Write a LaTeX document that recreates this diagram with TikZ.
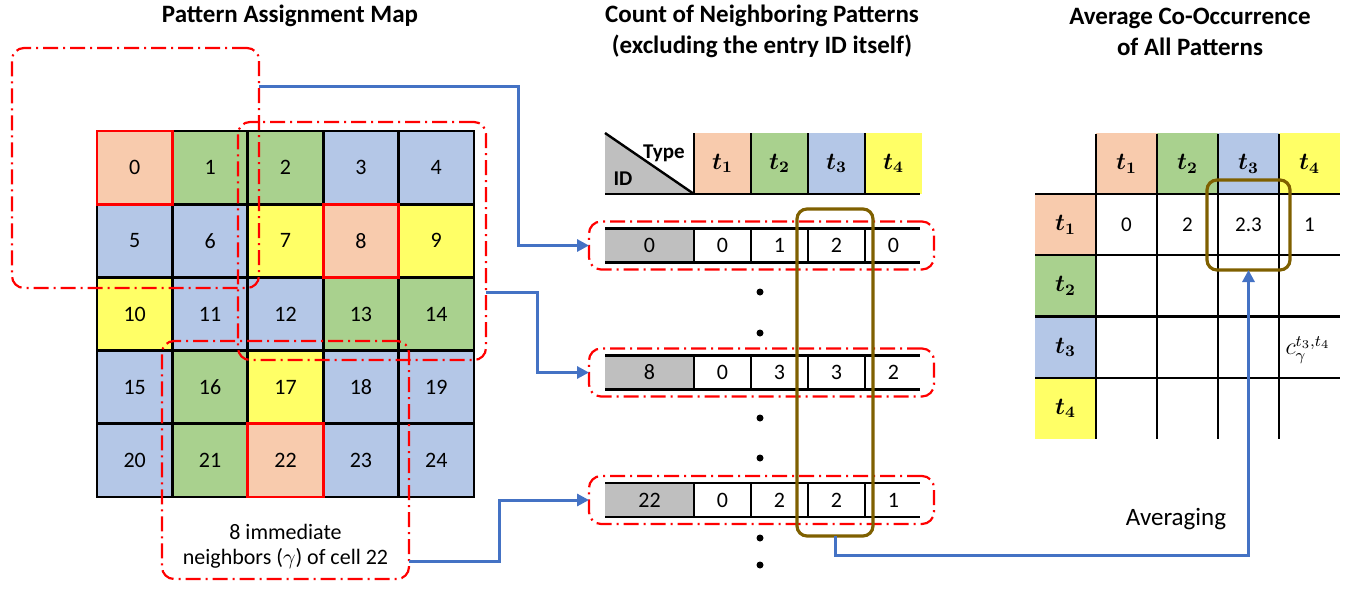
\documentclass[tikz,border=0pt]{standalone}
\usepackage{fontspec}
\usepackage{bm}
\setmainfont{Carlito}
\usetikzlibrary{arrows.meta,calc}
\definecolor{patorange}{HTML}{F8CBAD}
\definecolor{patgreen}{HTML}{A9D18E}
\definecolor{patblue}{HTML}{B4C7E7}
\definecolor{patyellow}{HTML}{FFFF66}
\definecolor{flowblue}{HTML}{4472C4}
\definecolor{selbrown}{HTML}{7F6000}
\definecolor{idgray}{HTML}{BFBFBF}
\tikzset{
  cell/.style={draw=black, line width=1.4pt, minimum width=37.7pt, minimum height=36.6pt,
    inner sep=0pt, outer sep=0pt, font=\fontsize{11}{12}\selectfont},
  redbox/.style={draw=red, line width=1.1pt, dash pattern=on 7.5pt off 2.5pt on 1pt off 2.5pt,
    rounded corners=6pt, inner sep=0pt, outer sep=0pt},
  selbox/.style={draw=selbrown, line width=1.6pt, rounded corners=5pt, inner sep=0pt, outer sep=0pt},
  flow/.style={draw=flowblue, line width=1.5pt, -{Triangle[length=6pt,width=6pt]}},
  tabline/.style={draw=black, line width=1.2pt},
  numtext/.style={inner sep=0pt, font=\fontsize{11}{12}\selectfont},
  hcell/.style={inner sep=0pt, outer sep=0pt, minimum width=28.5pt, minimum height=30.5pt,
    font=\fontsize{11.5}{13}\selectfont},
  tcell/.style={inner sep=0pt, outer sep=0pt, minimum width=30.5pt, minimum height=30.6pt,
    font=\fontsize{11.5}{13}\selectfont},
  title/.style={align=center, font=\fontsize{12.5}{15.5}\selectfont\bfseries}
}
\begin{document}
\begin{tikzpicture}[x=0.5pt, y=-0.5pt]
\useasboundingbox (0,0) rectangle (1350,600);
\node[title] (map title) at (290,16) {Pattern Assignment Map};
\node[title] (count title) at (762,31.5) {Count of Neighboring Patterns\\(excluding the entry ID itself)};
\node[title] (avg title) at (1190,31.5) {Average Co-Occurrence\\of All Patterns};

\foreach \col [count=\n from 0] in {patorange,patgreen,patgreen,patblue,patblue,
    patblue,patblue,patyellow,patorange,patyellow,
    patyellow,patblue,patblue,patgreen,patgreen,
    patblue,patgreen,patyellow,patblue,patblue,
    patblue,patgreen,patorange,patblue,patblue}{
  \pgfmathsetmacro\cx{134.7+75.4*mod(\n,5)}
  \pgfmathsetmacro\cy{167.6+73.2*floor(\n/5)}
  \node[cell, fill=\col] (c\n) at (\cx,\cy) {\n};
}
\foreach \k in {0,8,22}
  \draw[red, line width=1.4pt] (c\k.north west) rectangle (c\k.south east);

\node[redbox, minimum width=123.5pt, minimum height=120pt] (nb0) at (135.5,168) {};
\node[redbox, minimum width=124pt, minimum height=119pt] (nb8) at (362,241) {};
\node[redbox, minimum width=123.5pt, minimum height=119pt] (nb22) at (285.5,460) {};
\node[numtext, align=center, font=\fontsize{11}{12.5}\selectfont] (nb text) at (285.5,546)
  {8 immediate\\neighbors ($\gamma$) of cell 22};

\fill[idgray] (605,133) -- (605,194) -- (694,194) -- cycle;
\draw[tabline] (605,133) -- (694,194);
\node[font=\fontsize{10.5}{12}\selectfont\bfseries, inner sep=0pt] (type) at (664,153) {Type};
\node[font=\fontsize{10.5}{12}\selectfont\bfseries, inner sep=0pt] (id) at (623,179) {ID};
\foreach \col/\t [count=\j] in {patorange/1,patgreen/2,patblue/3,patyellow/4}
  \node[hcell, fill=\col] (th\j) at ({665.5+57*\j},163.5) {$\bm{t_{\t}}$};
\foreach \xx in {694,751,808,865}
  \draw[tabline] (\xx,133) -- (\xx,194);
\draw[tabline] (605,194) -- (920,194);

\foreach \k/\y/\vals in {0/245.5/{0,1,2,0}, 8/372.5/{0,3,3,2}, 22/500/{0,2,2,1}}{
  \fill[idgray] (605,{\y-17}) rectangle (694,{\y+17});
  \node[numtext] (id\k) at (649.5,\y) {\k};
  \foreach \v [count=\j] in \vals
    \node[numtext] (v\k-\j) at ({665.5+57*\j},\y) {\v};
  \draw[tabline] (605,{\y-17}) -- (920,{\y-17});
  \draw[tabline] (605,{\y+17}) -- (920,{\y+17});
  \foreach \xx in {694,751,808,865}
    \draw[tabline] (\xx,{\y-17}) -- (\xx,{\y+17});
  \node[redbox, minimum width=172.5pt, minimum height=24pt] (rb\k) at (761.5,\y) {};
}
\foreach \yy in {292,333,418,458,538,565}
  \fill (760,\yy) circle (1.75pt);
\node[selbox, minimum width=38pt, minimum height=163.5pt] (sel) at (835,372.5) {};

\foreach \col/\t [count=\j] in {patorange/1,patgreen/2,patblue/3,patyellow/4}{
  \node[tcell, fill=\col] (ct\j) at ({1065.5+61*\j},164) {$\bm{t_{\t}}$};
  \node[tcell, fill=\col] (rt\j) at (1065.5,{163.5+61.25*\j}) {$\bm{t_{\t}}$};
}
\foreach \yy in {194,255.25,316.5,377.75}
  \draw[tabline] (1035,\yy) -- (1340,\yy);
\foreach \xx in {1096,1157,1218,1279}
  \draw[tabline] (\xx,134) -- (\xx,439);
\foreach \v [count=\j] in {0,2,2.3,1}
  \node[numtext, font=\fontsize{10.5}{12}\selectfont] (a\j) at ({1065.5+61*\j},225) {\v};
\node[inner sep=0pt, font=\fontsize{12}{14}\selectfont] (cgam) at (1308,350) {$c_\gamma^{t_3,t_4}$};
\node[selbox, minimum width=41.5pt, minimum height=45pt] (avg) at (1248.5,225) {};
\node[inner sep=0pt, font=\fontsize{12.5}{14}\selectfont] (avg label) at (1176,519) {Averaging};

\draw[flow] ([yshift=-19pt]nb0.north east) -| ($(rb0.west)+(-71,0)$) -- (rb0.west);
\draw[flow] ([yshift=-85pt]nb8.north east) -| ($(rb8.west)+(-52,0)$) -- (rb8.west);
\draw[flow] ([yshift=-110pt]nb22.north east) -| ($(rb22.west)+(-90,0)$) -- (rb22.west);
\draw[flow] (sel.south) -- ++(0,19) -| (avg.south);
\end{tikzpicture}
\end{document}
